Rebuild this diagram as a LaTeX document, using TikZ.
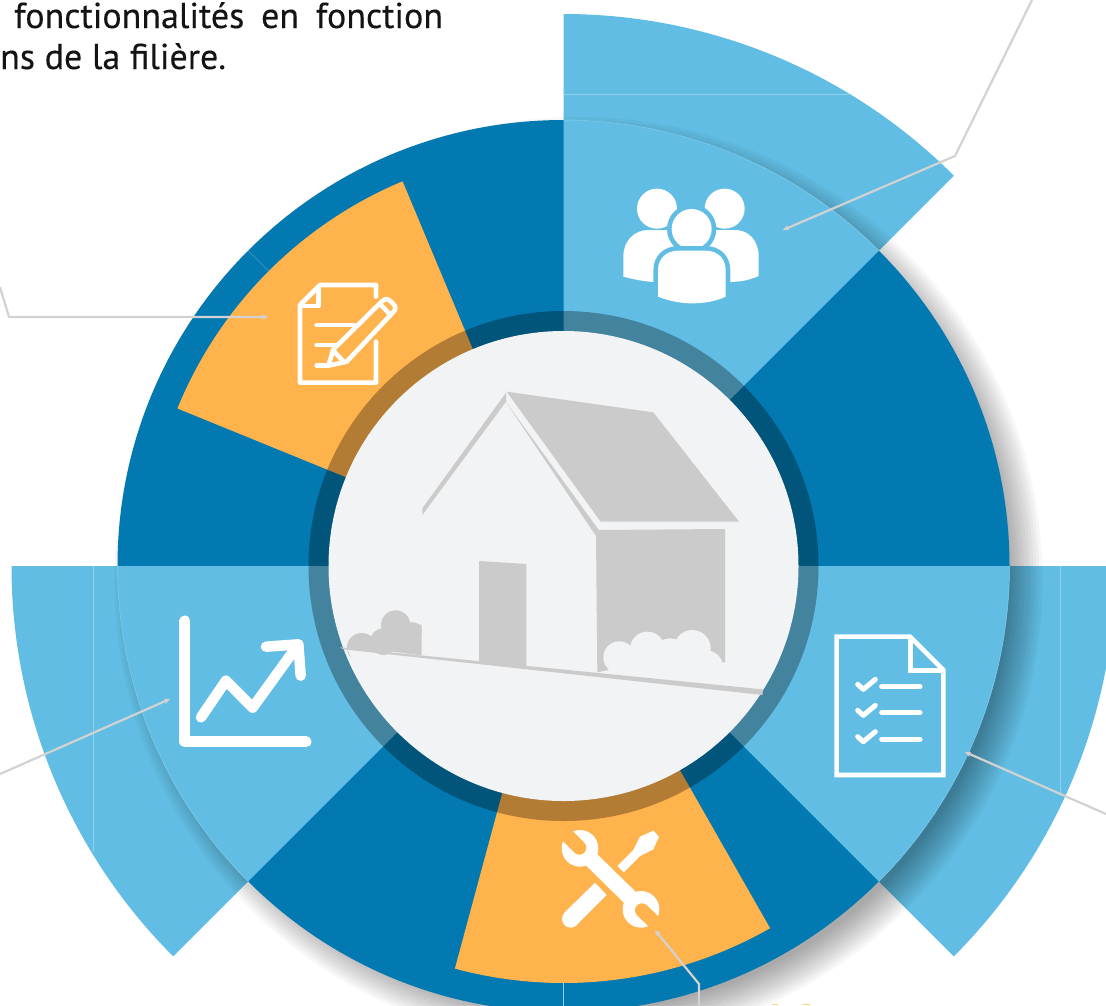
\documentclass[tikz,border=0pt]{standalone}
\usepackage{fontspec}
\setmainfont{PT Sans}
\newfontfamily\capfont{PT Sans}[FakeBold=0.25]
\usetikzlibrary{arrows.meta}
\definecolor{deep}{HTML}{0279B0}
\definecolor{sky}{HTML}{61BDE3}
\definecolor{seam}{HTML}{8FD0EA}
\definecolor{amber}{HTML}{FFB34C}
\definecolor{hub}{HTML}{F1F3F5}
\definecolor{houseg}{HTML}{CBCBCB}
\definecolor{leader}{HTML}{D2D2D2}
\tikzset{
  leaderline/.style={draw=leader,line width=2.2pt,-{Stealth[length=6pt,width=5.5pt]}},
  seamline/.style={draw=seam,line width=.5pt},
  iconline/.style={draw=white,line cap=round,line join=round},
  caption/.style={anchor=base west,inner sep=0pt,font=\capfont\fontsize{36}{41}\selectfont,text=black!92},
  zx/.style={x=.33333pt,y=-.33333pt}
}
\newcommand{\sect}[4]{(#1:#3) arc[start angle=#1,end angle=#2,radius=#3] -- (#2:#4) arc[start angle=#2,end angle=#1,radius=#4] -- cycle}
\newcommand{\midbody}{(294,890) -- (294,810) .. controls (294,775) and (320,752) .. (355,752) -- (437,752) .. controls (472,752) and (497,775) .. (497,810) -- (497,890) .. controls (465,905) and (430,910) .. (395,910) .. controls (360,910) and (325,902) .. (294,890) -- cycle}
\begin{document}
\begin{tikzpicture}[x=1pt,y=1pt]
\useasboundingbox (0,0) rectangle (1106,-1005);
\clip (0,0) rectangle (1106,-1005);
\fill[white] (0,0) rectangle (1106,-1005);
\begin{scope}[shift={(563.5,-566)}]
  % outer light sectors
  \fill[sky] \sect{45}{90}{552}{400};
  \fill[sky] \sect{-45}{0}{552}{400};
  \fill[sky] \sect{180}{225}{552}{400};
  % seams in outer sectors
  \draw[seamline] (0,472) -- (285,472);
  \draw[seamline] (496.5,0) -- (496.5,-230);
  \draw[seamline] (-470.5,0) -- (-470.5,-286);
  % shadow of the disc
  \foreach \r in {-15,-12,...,20}
    \fill[black,opacity=.03] (15,-15) circle[radius=446+\r];
  % disc
  \fill[deep] (0,0) circle[radius=446];
  \fill[sky] \sect{45}{90}{446}{100};
  \fill[sky] \sect{-45}{0}{446}{100};
  \fill[sky] \sect{180}{225}{446}{100};
  \draw[seamline] (90:446) arc[start angle=90,end angle=45,radius=446];
  \draw[seamline] (0:446) arc[start angle=0,end angle=-45,radius=446];
  \draw[seamline] (180:446) arc[start angle=180,end angle=225,radius=446];
  \fill[amber] \sect{112.7}{157.8}{417}{100};
  \fill[amber] \sect{-105.1}{-60.3}{417}{100};
  \draw[seamline] (0,-417) -- (0,-446);
  \draw[draw=seam,line width=.3pt] (135:417) -- (135:446);
  % ring and hub
  \fill[black,opacity=.3] (0,0) circle[radius=255];
  \fill[hub] (0,0) circle[radius=235];
\end{scope}
% house
\begin{scope}[shift={(330,-380)},zx]
  \fill[houseg] (530,35) -- (970,97) -- (1227,425) -- (812,425) -- cycle;
  \fill[houseg] (528,38) -- (528,65) -- (277,405) -- (277,385) -- cycle;
  \fill[houseg] (527,65) -- (805,448) -- (798,468) -- cycle;
  \fill[houseg] (805,450) -- (1185,447) -- (1185,847) -- (1176,847) -- (835,870) -- (802,877) -- (798,468) -- cycle;
  \foreach \a/\b/\c in {868/832/48,952/807/52,1020/825/50,1087/805/55,1135/855/42}
    \fill[hub] (\a,\b) circle[radius=\c];
  \fill[hub] (835,872) -- (850,800) -- (1100,800) -- (1176,847) -- (1176,900) -- (835,900) -- cycle;
  \fill[houseg] (447,543) -- (589,552) -- (589,860) -- (447,845) -- cycle;
  \foreach \a/\b/\c in {95/803/44,160/785/40,197/735/44,248/755/28}
    \fill[houseg] (\a,\b) circle[radius=\c];
  \fill[houseg] (70,800) -- (160,750) -- (248,727) -- (275,735) -- (275,826) -- cycle;
  \fill[hub] (52,806) -- (140,815) -- (140,850) -- (70,850) -- cycle;
  \fill[houseg] (30,802) -- (1298,928) -- (1298,945) -- (40,808) -- cycle;
\end{scope}
% people icon
\begin{scope}[shift={(560,0)},zx]
  \fill[white] (190,830) -- (190,770) .. controls (190,720) and (225,690) .. (265,690) -- (525,690) .. controls (565,690) and (596,720) .. (596,770) -- (596,828) .. controls (565,842) and (535,846) .. (505,846) -- (280,846) .. controls (250,844) and (220,838) .. (190,830) -- cycle;
  \fill[white] (291,626) circle[radius=60];
  \fill[white] (494,626) circle[radius=60];
  \fill[sky] (395,687) circle[radius=74];
  \fill[white] (395,687) circle[radius=60];
  \draw[draw=sky,line width=9.2pt] \midbody;
  \fill[white] \midbody;
\end{scope}
% form icon
\begin{scope}[zx,iconline,line width=4.6pt]
  \draw (1128,890) -- (1128,855) -- (960,855) -- (900,915) -- (900,1148) -- (1128,1148) -- (1128,1025);
  \draw (955,860) -- (955,918) -- (900,918);
  \draw (950,975) -- (1062,975);
  \draw (950,1035) -- (1003,1035);
  \draw (950,1097) -- (985,1097);
  \draw (1000,1048) -- (1145,905) .. controls (1155,895) and (1163,895) .. (1172,904) -- (1180,912) .. controls (1188,920) and (1188,928) .. (1180,936) -- (1040,1085) -- (985,1097) -- cycle;
  \draw (1000,1052) -- (1032,1086);
  \draw (1140,912) -- (1172,945);
\end{scope}
% checklist icon
\begin{scope}[shift={(800,-560)},zx]
  \draw[draw=white,line width=4.6pt] (110,230) -- (330,230) -- (430,330) -- (430,645) -- (110,645) -- cycle;
  \draw[draw=white,line width=4.6pt] (331,230) -- (331,331) -- (430,331);
  \foreach \d in {0,78,157}{
    \draw[iconline,line width=5pt] (173,373+\d) -- (190,388+\d) -- (226,358+\d);
    \draw[iconline,line width=5pt] (245,380+\d) -- (360,380+\d);
  }
\end{scope}
% chart icon
\begin{scope}[shift={(0,-560)},zx,iconline]
  \draw[line width=11pt] (555,183) -- (555,545) -- (918,545);
  \draw[line width=10.5pt] (603,472) -- (678,362) -- (758,443) -- (895,253);
  \draw[line width=10.5pt] (798,260) -- (895,253) -- (902,347);
\end{scope}
% tools icon
\begin{scope}[shift={(440,-780)},zx]
  \fill[white] (465,308) -- (500,345) -- (410,435) -- (373,398) -- cycle;
  \fill[white] (392,417) circle[radius=26];
  \fill[white] (532,258) -- (551,277) -- (600,228) -- (640,208) -- (657,170) -- (640,152) -- (600,170) -- (580,210) -- cycle;
  \draw[white,line width=16pt] (440,225) -- (585,367);
  \fill[white] (420,205) circle[radius=55];
  \fill[white] (603,388) circle[radius=55];
  \draw[amber,line width=14pt,line cap=round] (360,145) -- (418,203);
  \draw[amber,line width=14pt,line cap=round] (606,391) -- (665,448);
\end{scope}
% leaders
\coordinate (formA) at (0,-287);
\coordinate (formB) at (9,-317);
\coordinate (formC) at (268,-317);
\coordinate (peopleA) at (1032,0);
\coordinate (peopleB) at (955,-156);
\coordinate (peopleC) at (783,-230);
\coordinate (listA) at (1106,-814);
\coordinate (listB) at (965,-752);
\coordinate (chartA) at (0,-774);
\coordinate (chartB) at (170,-699);
\coordinate (toolsA) at (699,-1005);
\coordinate (toolsB) at (699,-984);
\coordinate (toolsC) at (655,-930);
\draw[leaderline] (formA) -- (formB) -- (formC);
\draw[leaderline] (peopleA) -- (peopleB) -- (peopleC);
\draw[leaderline] (listA) -- (listB);
\draw[leaderline] (chartA) -- (chartB);
\draw[leaderline] (toolsA) -- (toolsB) -- (toolsC);
% clipped glimpses of a label at the lower edge
\fill[amber!70] (772,-1005) rectangle (778,-1003.6);
\fill[amber!70] (803,-1005) rectangle (810,-1003.6);
% captions
\node[caption] (capA) at (14,-28) {fonctionnalités\hspace{.2em} en\hspace{.2em} fonction};
\node[caption] (capB) at (0,-69) {ns de la filière.};
\end{tikzpicture}
\end{document}
